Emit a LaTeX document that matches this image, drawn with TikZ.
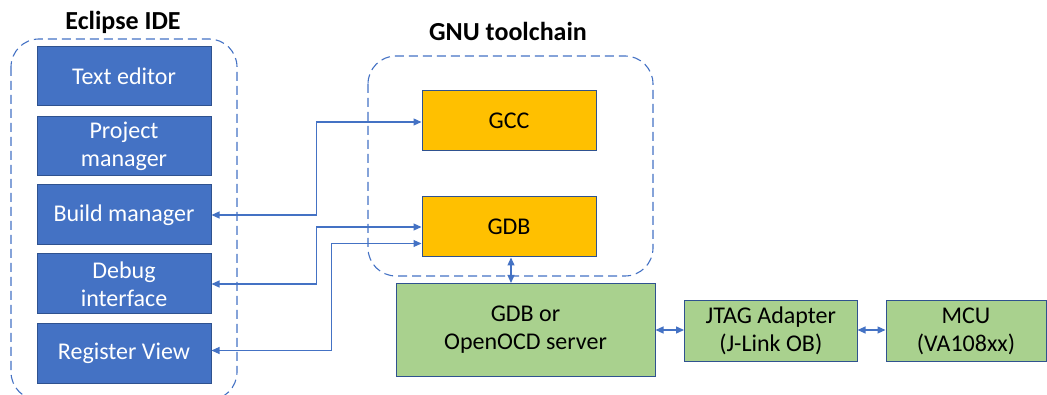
\documentclass[tikz,border=0pt]{standalone}
\usepackage{fontspec}
\setmainfont{Carlito}
\usetikzlibrary{arrows.meta}
\definecolor{ideblue}{HTML}{4472C4}
\definecolor{edgeblue}{HTML}{2F528F}
\definecolor{gnugold}{HTML}{FFC000}
\definecolor{hwgreen}{HTML}{A9D18E}
\tikzset{
  idebox/.style={draw=edgeblue,fill=ideblue,text=white,line width=1pt,
    minimum width=174pt,minimum height=60pt,align=center,
    font=\fontsize{24}{28}\selectfont},
  toolbox/.style={draw=edgeblue,fill=gnugold,line width=1pt,
    minimum width=174pt,minimum height=60pt,align=center,
    font=\fontsize{24}{28}\selectfont},
  hwbox/.style={draw=edgeblue,fill=hwgreen,line width=1pt,
    minimum height=60pt,align=center,
    font=\fontsize{24}{28}\selectfont},
  group/.style={draw=ideblue,line width=1.1pt,dash pattern=on 9pt off 5pt,
    rounded corners=28pt},
  grouptitle/.style={font=\fontsize{26}{30}\selectfont\bfseries},
  conn/.style={draw=ideblue,line width=1.2pt,
    {Triangle[length=8pt,width=7pt]}-{Triangle[length=8pt,width=7pt]}}
}
\begin{document}
\begin{tikzpicture}[x=1pt,y=-1pt]
  \useasboundingbox (0,0) rectangle (1047,395);
  % Eclipse IDE
  \draw[group] (11,39) rectangle (237,400);
  \node[grouptitle] (idetitle) at (123,22) {Eclipse IDE};
  \node[idebox,minimum height=59pt] (editor) at (124,76.5) {Text editor};
  \node[idebox,minimum height=59pt] (project) at (124,146) {Project\\manager};
  \node[idebox] (build) at (124,215) {Build manager};
  \node[idebox] (debug) at (124,284) {Debug\\interface};
  \node[idebox] (regview) at (124,353.5) {Register View};
  % GNU toolchain
  \draw[group] (368,56) rectangle (653,276);
  \node[grouptitle] (gnutitle) at (508,31) {GNU toolchain};
  \node[toolbox] (gcc) at (509,121) {GCC};
  \node[toolbox] (gdb) at (509,227) {GDB};
  % target side
  \node[hwbox,minimum width=259pt,minimum height=93pt] (server) at (525.5,330) {GDB or\\OpenOCD server};
  \node[hwbox,minimum width=172.5pt] (jtag) at (770.8,331) {JTAG Adapter\\(J-Link OB)};
  \node[hwbox,minimum width=160pt] (mcu) at (966,331) {MCU\\(VA108xx)};
  % connections
  \draw[conn] (build.east) -- ++(105,0) |- ([yshift=-1pt]gcc.west);
  \draw[conn] (debug.east) -- ++(105,0) |- (gdb.west);
  \draw[conn] ([yshift=3pt]regview.east) -- ++(120,0) |- ([yshift=-16.5pt]gdb.west);
  \draw[conn] ([xshift=2pt]gdb.south) -- ([xshift=2pt]gdb.south |- server.north);
  \draw[conn] (server.east) -- (server.east -| jtag.west);
  \draw[conn] ([yshift=1pt]jtag.east) -- ([yshift=1pt]jtag.east -| mcu.west);
\end{tikzpicture}
\end{document}
